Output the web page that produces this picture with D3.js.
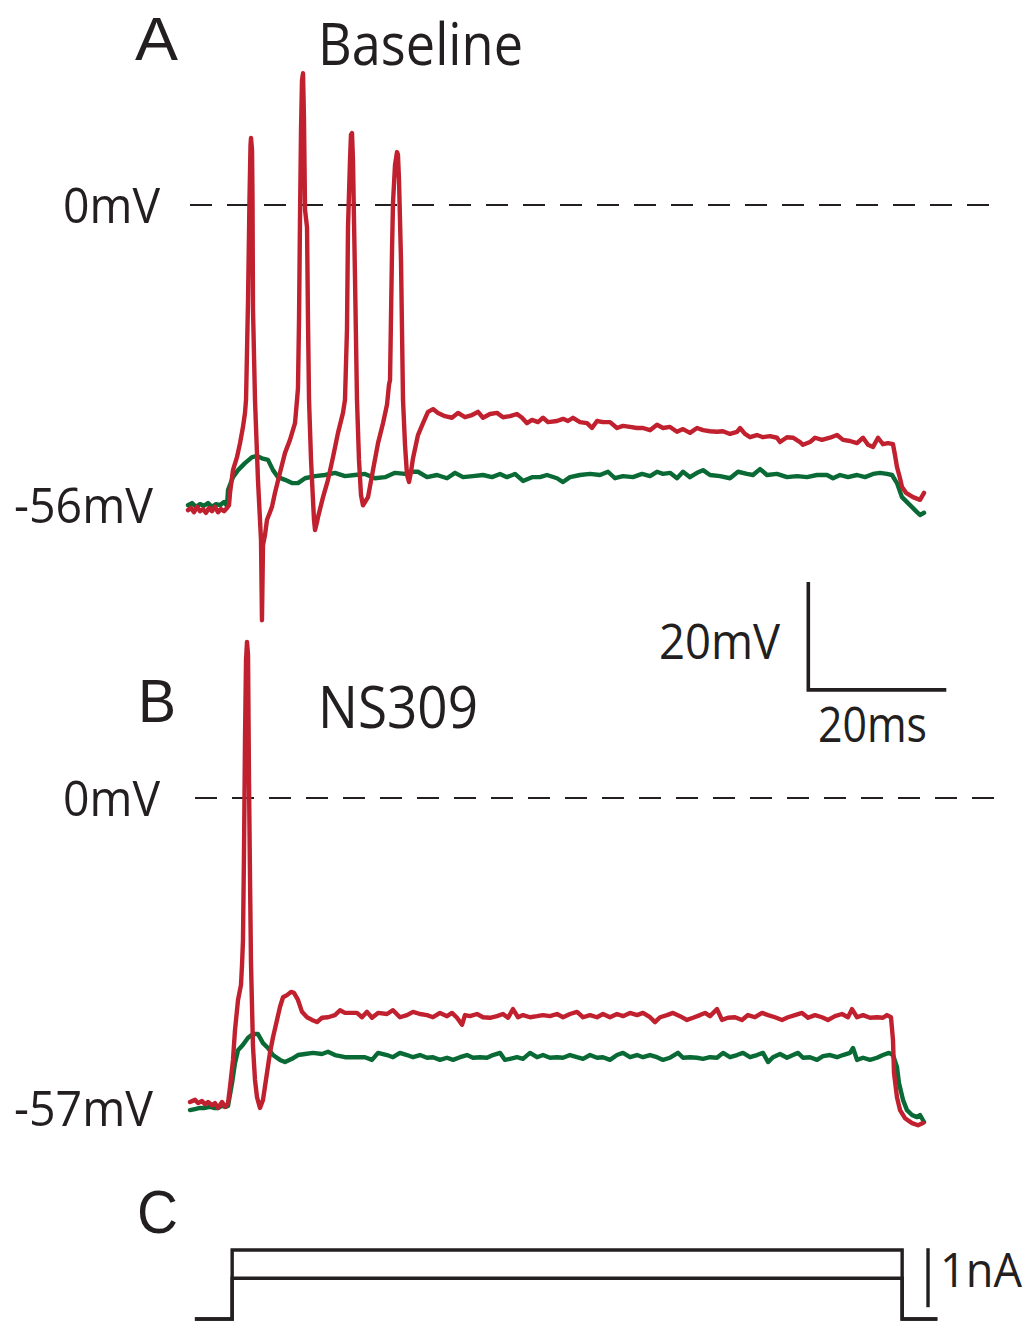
<!DOCTYPE html>
<html>
<head>
<meta charset="utf-8">
<script src="https://cdn.jsdelivr.net/npm/d3@7"></script>
<style>
  html, body { margin: 0; padding: 0; background: #ffffff; }
  svg { display: block; }
  text { font-family: "Open Sans", "Noto Sans", sans-serif; fill: #231f20; }
  text.letter { font-family: "Liberation Sans", Arial, sans-serif; }
</style>
</head>
<body>
<script>
// Membrane potential recordings, [time (ms), potential (mV)]
const baselineRed = [
  [0.00,-56.5],[0.43,-56.1],[0.87,-56.9],[1.30,-55.9],[1.74,-56.7],[2.17,-56.3],[2.61,-57.0],[3.04,-56.1],
  [3.48,-56.7],[3.91,-55.9],[4.35,-56.9],[4.78,-56.3],[5.22,-56.7],[5.65,-56.1],[5.94,-55.6],[6.09,-53.3],
  [6.52,-49.1],[7.10,-46.7],[7.54,-44.1],[7.97,-41.1],[8.26,-38.5],[8.41,-36.1],[8.70,-17.6],[8.91,0.9],
  [9.06,11.1],[9.13,12.4],[9.28,10.2],[9.35,0.9],[9.42,-19.4],[9.71,-36.1],[10.14,-50.9],[10.58,-62.0],
  [10.72,-76.9],[10.87,-63.0],[11.16,-61.1],[11.45,-58.3],[11.88,-56.9],[12.17,-55.9],[12.61,-53.3],
  [13.33,-49.6],[14.06,-45.9],[14.78,-43.5],[15.51,-40.4],[15.80,-36.1],[15.94,-33.9],[16.09,-21.3],
  [16.23,-2.8],[16.38,13.9],[16.52,23.1],[16.67,24.4],[16.81,15.7],[16.96,-0.9],[17.25,-4.1],[17.39,-21.3],
  [17.54,-36.1],[17.83,-47.2],[17.97,-50.9],[18.26,-58.3],[18.41,-60.2],[18.70,-58.7],[18.84,-57.8],
  [19.57,-54.1],[20.29,-50.9],[21.01,-46.7],[21.74,-42.2],[22.46,-38.5],[22.75,-36.1],[23.04,-23.1],
  [23.19,-4.1],[23.48,8.3],[23.62,13.0],[23.77,13.3],[23.91,8.3],[24.20,-13.3],[24.49,-36.1],[24.78,-47.2],
  [25.07,-53.7],[25.36,-55.6],[25.65,-55.0],[26.09,-54.1],[26.81,-49.1],[27.54,-44.1],[28.26,-40.4],
  [28.84,-37.0],[29.13,-33.3],[29.28,-32.4],[29.57,-8.3],[29.71,0.4],[30.00,7.4],[30.29,9.8],[30.43,9.3],
  [30.58,4.6],[30.87,-10.2],[31.16,-36.1],[31.45,-44.4],[31.74,-50.0],[32.03,-51.3],[32.32,-49.4],
  [32.61,-46.9],[33.33,-42.6],[34.06,-40.4],[34.78,-38.3],[35.51,-37.8],[36.23,-38.5],[37.25,-39.1],
  [38.26,-39.4],[39.13,-38.5],[40.14,-39.3],[41.16,-38.9],[42.03,-38.3],[42.75,-39.4],[43.77,-38.7],
  [44.78,-38.5],[45.65,-39.3],[46.67,-39.1],[47.68,-38.7],[48.41,-39.4],[49.13,-40.4],[49.86,-39.8],
  [50.72,-40.2],[51.45,-39.4],[52.17,-40.2],[53.48,-40.0],[54.35,-39.6],[55.07,-40.0],[55.80,-39.4],
  [56.81,-40.2],[57.83,-40.4],[58.55,-41.3],[59.28,-40.0],[60.14,-40.2],[61.16,-40.2],[62.17,-41.3],
  [63.04,-40.9],[64.06,-41.1],[65.07,-41.3],[65.94,-41.3],[66.96,-41.7],[67.97,-40.7],[68.84,-41.3],
  [69.86,-41.1],[70.87,-42.0],[71.74,-41.5],[72.75,-42.2],[73.77,-41.3],[74.64,-41.7],[75.65,-41.9],
  [76.67,-42.0],[77.54,-41.9],[78.55,-42.4],[79.57,-42.0],[80.00,-41.3],[80.72,-42.4],[81.45,-43.0],
  [82.46,-42.6],[83.33,-43.0],[84.35,-42.8],[85.36,-43.1],[85.80,-43.9],[86.81,-43.0],[87.68,-43.1],
  [88.70,-43.9],[89.13,-44.4],[90.14,-43.9],[90.87,-43.1],[91.88,-43.5],[93.04,-43.1],[94.06,-42.6],
  [94.93,-43.5],[95.94,-43.7],[96.96,-44.1],[97.83,-43.1],[98.55,-44.4],[99.28,-44.8],[100.00,-43.1],
  [100.72,-44.3],[101.45,-44.1],[102.17,-44.3],[102.46,-46.3],[102.75,-48.5],[103.19,-50.6],[103.48,-52.2],
  [104.06,-53.3],[105.07,-54.1],[106.09,-54.6],[106.67,-53.3]
];

const baselineGreen = [
  [0.00,-55.6],[0.58,-55.2],[1.16,-55.9],[1.74,-55.4],[2.32,-55.7],[2.90,-55.2],[3.48,-55.9],[4.06,-55.4],
  [4.64,-55.6],[5.22,-55.0],[5.65,-55.7],[5.80,-52.8],[6.52,-50.4],[7.25,-49.1],[8.26,-47.8],[9.28,-46.7],
  [10.00,-46.5],[10.72,-46.9],[11.59,-47.2],[12.32,-49.1],[13.04,-50.4],[14.06,-50.9],[15.07,-51.5],
  [15.94,-51.5],[16.96,-50.6],[18.41,-50.2],[19.86,-50.0],[21.30,-49.6],[22.75,-50.2],[24.20,-50.0],
  [25.65,-49.8],[27.10,-50.6],[28.55,-50.4],[30.00,-49.6],[31.45,-49.8],[32.17,-49.4],[33.33,-49.4],
  [34.64,-50.4],[36.09,-50.0],[37.54,-50.6],[38.70,-49.6],[39.86,-50.4],[41.30,-50.2],[42.75,-50.0],
  [44.06,-50.4],[45.22,-49.8],[46.23,-50.4],[47.39,-49.8],[48.55,-51.1],[49.86,-50.4],[51.01,-50.4],
  [52.03,-50.0],[53.48,-50.6],[54.35,-51.3],[55.36,-50.4],[56.81,-50.0],[58.26,-49.8],[59.71,-50.0],
  [60.87,-49.4],[61.88,-50.6],[63.04,-50.2],[64.49,-50.4],[65.80,-49.8],[66.96,-50.2],[67.97,-49.4],
  [68.84,-49.8],[69.86,-49.6],[70.87,-50.6],[71.74,-49.4],[72.75,-50.4],[73.77,-49.6],[74.64,-49.1],
  [75.65,-50.0],[77.10,-50.2],[78.55,-50.6],[79.71,-49.4],[81.01,-49.8],[81.88,-50.0],[82.90,-48.9],
  [83.91,-50.0],[85.36,-49.8],[86.81,-50.4],[88.26,-50.2],[89.71,-50.4],[91.16,-50.0],[92.61,-50.0],
  [93.48,-50.6],[94.49,-50.0],[95.65,-50.4],[96.96,-50.0],[98.12,-50.4],[99.28,-49.8],[100.29,-49.6],
  [101.30,-49.8],[102.03,-50.0],[102.75,-51.5],[103.48,-54.1],[104.35,-55.2],[105.36,-56.5],[106.09,-57.4],
  [106.67,-57.0]
];

const ns309Red = [
  [0.29,-56.3],[1.01,-55.9],[1.45,-56.5],[2.03,-56.1],[2.46,-56.7],[2.90,-56.3],[3.48,-56.9],[3.91,-56.5],
  [4.35,-57.4],[4.93,-56.3],[5.36,-57.2],[5.80,-56.5],[6.09,-53.5],[6.52,-48.5],[6.81,-43.0],[7.25,-37.4],
  [7.68,-34.6],[7.83,-30.9],[7.97,-26.3],[8.12,-9.6],[8.26,10.7],[8.41,25.6],[8.55,28.9],[8.70,26.5],
  [8.84,3.3],[8.99,-15.2],[9.13,-30.6],[9.42,-46.1],[9.71,-52.2],[10.00,-55.4],[10.43,-57.4],[10.87,-55.9],
  [11.45,-50.9],[11.88,-47.2],[12.32,-44.3],[12.90,-41.1],[13.33,-38.7],[13.77,-36.9],[14.35,-36.5],
  [14.93,-35.9],[15.36,-36.1],[15.94,-37.4],[16.52,-39.6],[17.25,-40.6],[17.97,-41.1],[18.70,-41.5],
  [19.42,-40.7],[20.29,-40.6],[21.30,-40.2],[22.03,-39.3],[22.75,-39.8],[23.77,-39.8],[24.49,-39.8],
  [25.22,-40.6],[25.94,-39.6],[26.67,-40.7],[27.54,-39.8],[28.84,-40.0],[29.71,-39.3],[30.72,-40.6],
  [31.74,-40.2],[32.61,-39.6],[33.62,-40.0],[34.64,-40.2],[35.51,-40.6],[36.52,-39.8],[37.54,-40.4],
  [38.26,-39.8],[38.99,-40.7],[39.71,-42.0],[40.14,-40.2],[40.87,-40.4],[41.88,-40.0],[42.75,-40.6],
  [43.77,-40.7],[44.78,-40.4],[45.65,-40.0],[46.38,-40.7],[47.10,-39.1],[47.83,-40.6],[48.55,-40.2],
  [49.57,-40.6],[50.58,-40.4],[51.45,-40.2],[52.46,-40.4],[53.48,-40.0],[54.35,-40.6],[55.36,-40.0],
  [56.38,-39.6],[57.25,-40.6],[58.26,-40.2],[59.28,-40.6],[60.14,-40.0],[61.16,-40.6],[62.17,-40.0],
  [63.04,-40.4],[64.06,-39.8],[65.07,-40.2],[65.94,-39.8],[66.96,-40.6],[67.68,-41.5],[68.41,-40.6],
  [69.42,-40.2],[70.29,-39.8],[71.30,-40.4],[72.32,-41.1],[73.19,-40.7],[74.20,-40.2],[74.93,-39.8],
  [75.65,-40.4],[76.67,-39.1],[77.39,-41.1],[78.26,-40.7],[79.28,-40.6],[80.29,-41.1],[81.16,-40.2],
  [82.17,-40.6],[83.19,-39.8],[84.06,-40.2],[85.07,-40.6],[86.09,-41.1],[86.96,-40.6],[87.97,-40.2],
  [88.99,-39.8],[89.86,-40.7],[90.87,-40.2],[91.88,-40.6],[92.75,-41.1],[93.77,-40.4],[94.78,-40.0],
  [95.65,-40.6],[96.23,-39.1],[96.96,-40.6],[97.83,-40.2],[98.84,-40.7],[99.86,-40.6],[100.72,-40.7],
  [101.30,-40.2],[101.88,-40.6],[102.17,-44.8],[102.32,-50.9],[102.75,-55.4],[103.19,-57.8],[103.91,-59.3],
  [104.93,-60.2],[105.80,-60.6],[106.52,-60.2]
];

const ns309Green = [
  [0.29,-57.8],[1.01,-57.6],[1.74,-57.4],[2.46,-57.4],[3.19,-57.2],[3.77,-57.4],[4.35,-57.4],[4.93,-57.0],
  [5.51,-57.2],[5.80,-57.0],[6.38,-52.8],[6.81,-49.1],[7.25,-46.7],[7.97,-45.7],[8.70,-44.4],[9.42,-43.7],
  [10.14,-43.7],[10.87,-45.4],[11.59,-46.3],[12.32,-47.6],[13.33,-48.5],[14.06,-48.9],[15.07,-48.3],
  [15.94,-47.6],[16.96,-47.4],[18.12,-47.2],[19.42,-47.4],[20.29,-47.0],[21.30,-47.6],[22.75,-48.0],
  [24.20,-48.0],[25.65,-48.0],[26.67,-48.5],[27.54,-47.2],[28.84,-47.6],[29.71,-48.0],[30.72,-47.2],
  [31.74,-47.6],[32.61,-48.0],[33.62,-47.6],[34.64,-48.1],[35.51,-48.0],[36.52,-48.5],[37.54,-48.1],
  [38.41,-48.5],[39.42,-48.0],[40.43,-47.6],[41.30,-48.1],[42.32,-48.0],[43.33,-48.1],[44.20,-47.6],
  [45.22,-47.2],[45.94,-48.5],[46.67,-48.3],[47.68,-48.0],[48.55,-48.3],[49.57,-47.2],[50.58,-48.0],
  [51.45,-47.6],[52.46,-48.1],[53.48,-48.0],[54.35,-48.1],[55.36,-47.6],[56.38,-48.0],[57.25,-48.3],
  [58.26,-47.6],[59.28,-48.1],[60.14,-48.0],[61.16,-48.5],[62.17,-47.6],[63.04,-47.2],[64.06,-48.0],
  [65.07,-47.6],[65.94,-48.0],[66.96,-47.6],[67.97,-48.0],[68.84,-48.5],[69.86,-48.1],[71.01,-47.2],
  [71.74,-48.1],[72.75,-48.0],[73.77,-48.1],[74.64,-48.3],[75.65,-48.0],[76.67,-48.1],[77.54,-47.2],
  [78.55,-48.0],[79.57,-47.6],[80.43,-47.2],[81.45,-48.0],[82.46,-47.6],[83.33,-47.2],[84.06,-48.9],
  [84.78,-48.0],[85.80,-47.4],[86.81,-48.1],[87.68,-47.6],[88.41,-47.2],[89.13,-48.1],[90.14,-48.0],
  [91.16,-48.5],[92.03,-47.8],[93.04,-47.6],[94.06,-48.0],[94.93,-47.6],[95.94,-47.2],[96.38,-46.3],
  [96.96,-48.5],[97.83,-48.1],[98.84,-48.5],[99.86,-48.1],[100.72,-47.6],[101.59,-47.2],[102.17,-47.6],
  [102.75,-49.8],[103.04,-52.8],[103.62,-55.9],[104.20,-57.8],[104.93,-58.7],[105.65,-59.1],[106.09,-58.7],
  [106.67,-60.0]
];

// Resting potentials printed beside each panel (mV)
const restPotentials = [-56, -57];
// Reference line potential (mV)
const refPotential = 0;

// Injected current protocol: times of edges (ms) and the two step amplitudes (nA)
const stepEdges = [1.0, 6.4, 103.5, 108.6];
const stepAmplitudes = [1.17, 0.69];

// Scale bar sizes
const scaleBarMV = 20;
const scaleBarMS = 20;
const scaleBarNA = 1;

const panelTitles = ["Baseline", "NS309"];
const panelLetters = ["A", "B", "C"];

// ---------- layout ----------
const W = 1029, H = 1321;
const svg = d3.select("body").append("svg")
  .attr("width", W).attr("height", H)
  .attr("viewBox", `0 0 ${W} ${H}`);
svg.append("rect").attr("width", W).attr("height", H).attr("fill", "#ffffff");

const pxPerMs = 6.9, pxPerMV = 5.4, pxPerNA = 59;
const x = d3.scaleLinear().domain([0, 110]).range([188, 188 + 110 * pxPerMs]);
const yA = d3.scaleLinear().domain([0, -100]).range([205, 205 + 100 * pxPerMV]);
const yB = d3.scaleLinear().domain([0, -100]).range([798, 798 + 100 * pxPerMV]);
const yC = d3.scaleLinear().domain([0, 1]).range([1319, 1319 - pxPerNA]);

const RED = "#c1202f", GREEN = "#0a6a35", INK = "#231f20";

function label(txt, lx, ly, size, width, cls) {
  const t = svg.append("text")
    .attr("x", lx).attr("y", ly)
    .attr("font-size", size)
    .text(txt);
  if (cls) t.attr("class", cls);
  if (width) t.attr("textLength", width).attr("lengthAdjust", "spacingAndGlyphs");
  return t;
}

// ---------- voltage panels ----------
const panels = [
  { y: yA, red: baselineRed, green: baselineGreen, rest: restPotentials[0],
    dash: [190, 992], title: panelTitles[0], letter: panelLetters[0],
    letterPos: [135, 60, 43], titlePos: [318, 65, 205], restOff: 16 },
  { y: yB, red: ns309Red, green: ns309Green, rest: restPotentials[1],
    dash: [195, 996], title: panelTitles[1], letter: panelLetters[1],
    letterPos: [138, 722, 38], titlePos: [318, 728, 160], restOff: 20 }
];

panels.forEach(p => {
  // 0 mV reference line
  svg.append("line")
    .attr("x1", p.dash[0]).attr("x2", p.dash[1])
    .attr("y1", p.y(refPotential)).attr("y2", p.y(refPotential))
    .attr("stroke", INK).attr("stroke-width", 2)
    .attr("stroke-dasharray", "22,15");

  const line = d3.line().x(d => x(d[0])).y(d => p.y(d[1]));
  [[p.green, GREEN], [p.red, RED]].forEach(([data, col]) => {
    svg.append("path")
      .datum(data)
      .attr("d", line)
      .attr("fill", "none")
      .attr("stroke", col)
      .attr("stroke-width", 4.4)
      .attr("stroke-linejoin", "round")
      .attr("stroke-linecap", "round");
  });

  label(`${refPotential}mV`, 63, p.y(refPotential) + 18, 50, 97);
  label(`${p.rest}mV`, 14, p.y(p.rest) + p.restOff, 50, 139);
  label(p.letter, p.letterPos[0], p.letterPos[1], 62, p.letterPos[2], "letter");
  label(p.title, p.titlePos[0], p.titlePos[1], 58, p.titlePos[2]);
});

// ---------- scale bar (time / voltage, panel A frame) ----------
const sbT = 89.9, sbV = -89.8;
svg.append("path")
  .attr("d", d3.line()([
    [x(sbT), yA(sbV + scaleBarMV)],
    [x(sbT), yA(sbV)],
    [x(sbT + scaleBarMS), yA(sbV)]
  ]))
  .attr("fill", "none").attr("stroke", INK).attr("stroke-width", 3.6)
  .attr("stroke-linejoin", "miter");
label(`${scaleBarMV}mV`, 659, 659, 50, 121);
label(`${scaleBarMS}ms`, 818, 742, 50, 109);

// ---------- current steps (panel C) ----------
stepAmplitudes.forEach(a => {
  const pts = [
    [x(stepEdges[0]), yC(0)],
    [x(stepEdges[1]), yC(0)],
    [x(stepEdges[1]), yC(a)],
    [x(stepEdges[2]), yC(a)],
    [x(stepEdges[2]), yC(0)],
    [x(stepEdges[3]), yC(0)]
  ];
  svg.append("path")
    .attr("d", d3.line()(pts))
    .attr("fill", "none").attr("stroke", INK).attr("stroke-width", 3.4)
    .attr("stroke-linejoin", "miter");
});
label(panelLetters[2], 137, 1233, 62, 41, "letter");

// 1 nA bar
const nABarT = 107.25, nABarBase = 0.2;
svg.append("line")
  .attr("x1", x(nABarT)).attr("x2", x(nABarT))
  .attr("y1", yC(nABarBase)).attr("y2", yC(nABarBase + scaleBarNA))
  .attr("stroke", INK).attr("stroke-width", 3.4);
label(`${scaleBarNA}nA`, 940, 1287, 48, 82);
</script>
</body>
</html>
